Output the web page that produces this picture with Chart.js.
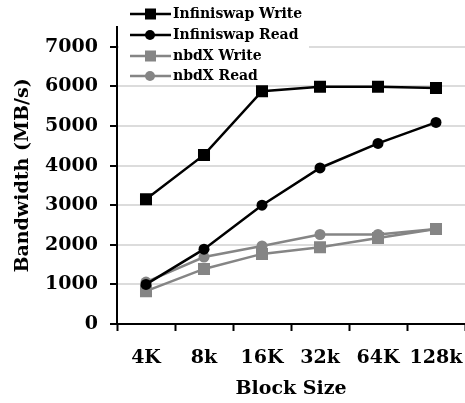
<!DOCTYPE html>
<html>
<head>
<meta charset="utf-8">
<script src="https://cdn.jsdelivr.net/npm/chart.js@4/dist/chart.umd.min.js"></script>
<style>
  html, body { margin: 0; padding: 0; background: #fff; }
  #wrap { width: 465px; height: 403px; }
</style>
</head>
<body>
<div id="wrap"><canvas id="mycanvas" width="465" height="403"></canvas></div>
<script>
var blockSizes = ["4K", "8k", "16K", "32k", "64K", "128k"];
var infiniswapWrite = [3150, 4270, 5880, 5990, 5990, 5960];
var infiniswapRead = [1000, 1890, 3000, 3940, 4560, 5090];
var nbdxWrite = [830, 1390, 1770, 1940, 2170, 2400];
var nbdxRead = [1060, 1690, 1970, 2260, 2260, 2400];
var yTicks = [0, 1000, 2000, 3000, 4000, 5000, 6000, 7000];

var FONT = "'DejaVu Serif', serif";
var GRAY = "#858585";

function series(label, data, color, shape, radius) {
  return {
    label: label,
    data: data,
    borderColor: color,
    backgroundColor: color,
    borderWidth: 2.5,
    pointStyle: shape,
    pointRadius: radius,
    pointHoverRadius: radius,
    pointBorderWidth: 0,
    tension: 0,
    fill: false
  };
}

// legend drawn on top of the plot, like the original
var boxLegend = {
  id: "boxLegend",
  afterDraw: function(chart) {
    var ctx = chart.ctx;
    ctx.save();
    ctx.fillStyle = "#fff";
    ctx.fillRect(119, 0, 190, 83);
    var rows = [14, 35, 56, 76];
    chart.data.datasets.forEach(function(ds, i) {
      var y = rows[i];
      ctx.strokeStyle = ds.borderColor;
      ctx.lineWidth = 2.5;
      ctx.beginPath();
      ctx.moveTo(130, y);
      ctx.lineTo(171, y);
      ctx.stroke();
      ctx.fillStyle = ds.borderColor;
      if (ds.pointStyle === "rect") {
        ctx.fillRect(145, y - 5.5, 11, 11);
      } else {
        ctx.beginPath();
        ctx.arc(150, y, 5, 0, Math.PI * 2);
        ctx.fill();
      }
      ctx.fillStyle = "#000";
      ctx.font = "bold 14px " + FONT;
      ctx.textBaseline = "middle";
      ctx.textAlign = "left";
      ctx.fillText(ds.label, 173, y);
    });
    ctx.restore();
  }
};

var chartdata = {
  labels: blockSizes,
  datasets: [
    series("Infiniswap Write", infiniswapWrite, "#000", "rect", 8.5),
    series("Infiniswap Read", infiniswapRead, "#000", "circle", 5.5),
    series("nbdX Write", nbdxWrite, GRAY, "rect", 8.5),
    series("nbdX Read", nbdxRead, GRAY, "circle", 5.5)
  ]
};

var ctx = document.getElementById("mycanvas");
var LineGraph = new Chart(ctx, {
  type: "line",
  data: chartdata,
  plugins: [boxLegend],
  options: {
    responsive: false,
    animation: false,
    layout: { autoPadding: false, padding: { top: 27, right: 0, left: 0, bottom: 0 } },
    plugins: { legend: { display: false }, tooltip: { enabled: false } },
    scales: {
      x: {
        offset: true,
        grid: { drawOnChartArea: false, offset: true, tickLength: 7, tickColor: "#000", tickWidth: 2 },
        border: { color: "#000", width: 2 },
        ticks: { color: "#000", padding: 16, maxRotation: 0, font: { family: FONT, size: 19, weight: "bold" } },
        title: { display: true, text: "Block Size", color: "#000", padding: { top: 0, bottom: 3 },
                 font: { family: FONT, size: 19, weight: "bold" } },
        afterFit: function(scale) {
          scale.height = 79;
          scale.paddingLeft = 0;
          scale.paddingRight = 0;
        }
      },
      y: {
        min: 0,
        max: 7500,
        afterBuildTicks: function(axis) {
          axis.ticks = yTicks.map(function(v) { return { value: v }; });
        },
        grid: {
          color: function(c) { return c.tick && c.tick.value === 0 ? "#000" : "#dcdcdc"; },
          lineWidth: 2,
          tickLength: 7,
          tickColor: "#000",
          tickWidth: 2
        },
        border: { color: "#000", width: 2 },
        ticks: {
          color: "#000",
          padding: 12,
          font: { family: FONT, size: 19, weight: "bold" },
          callback: function(v) { return String(v); }
        },
        title: { display: true, text: "Bandwidth (MB/s)", color: "#000", padding: { top: 12, bottom: 0 },
                 font: { family: FONT, size: 19, weight: "bold" } },
        afterFit: function(scale) {
          scale.width = 117;
          scale.paddingTop = 0;
          scale.paddingBottom = 0;
        }
      }
    }
  }
});
</script>
</body>
</html>
